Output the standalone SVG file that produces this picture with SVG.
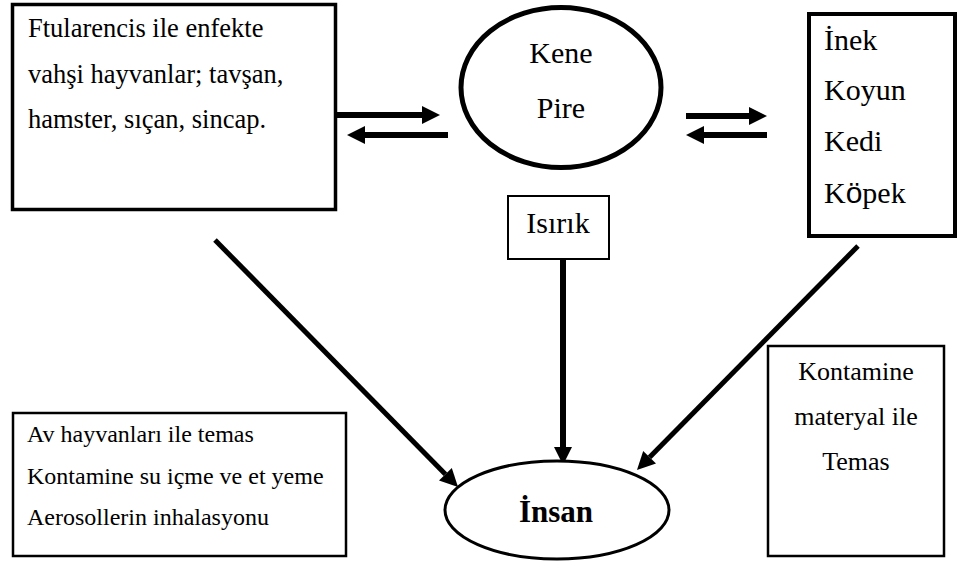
<svg xmlns="http://www.w3.org/2000/svg" width="960" height="567" viewBox="0 0 960 567">
<style>
text{font-family:"Liberation Serif","Times New Roman",serif;fill:#000}
.box{fill:#fff;stroke:#000}
.line{fill:none;stroke:#000}
</style>
<defs>
<marker id="ah" markerUnits="userSpaceOnUse" markerWidth="18" markerHeight="18" refX="0" refY="9" orient="auto" overflow="visible">
<path d="M0,0 L18,9 L0,18 Z" fill="#000"/>
</marker>
</defs>
<rect width="960" height="567" fill="#fff"/>
<g id="connectors">
<line class="line" x1="337" y1="115" x2="422" y2="115" stroke-width="6" marker-end="url(#ah)"/>
<line class="line" x1="448" y1="135" x2="365" y2="135" stroke-width="6" marker-end="url(#ah)"/>
<line class="line" x1="686" y1="116" x2="749" y2="116" stroke-width="6" marker-end="url(#ah)"/>
<line class="line" x1="767" y1="135" x2="704" y2="135" stroke-width="6" marker-end="url(#ah)"/>
<line class="line" x1="563" y1="260" x2="563" y2="447" stroke-width="6" marker-end="url(#ah)"/>
<line class="line" x1="215" y1="240" x2="445.4" y2="474.2" stroke-width="5" marker-end="url(#ah)"/>
<line class="line" x1="858" y1="246" x2="649.6" y2="457.2" stroke-width="5" marker-end="url(#ah)"/>
</g>
<g id="hosts-wild">
<rect class="box" x="12.5" y="4.5" width="323" height="205" stroke-width="3.5"/>
<text x="28" y="37" font-size="26.5">Ftularencis ile enfekte</text>
<text x="28" y="83" font-size="26.5">vahşi hayvanlar; tavşan,</text>
<text x="28" y="128" font-size="26.5">hamster, sıçan, sincap.</text>
</g>
<g id="vector">
<ellipse class="box" cx="561" cy="87.5" rx="100" ry="80" stroke-width="5"/>
<text x="561" y="63" font-size="30" text-anchor="middle">Kene</text>
<text x="561" y="118" font-size="30" text-anchor="middle">Pire</text>
</g>
<g id="hosts-domestic">
<rect class="box" x="809" y="14" width="146" height="222" stroke-width="4"/>
<text x="824" y="50" font-size="30">İnek</text>
<text x="824" y="100" font-size="30">Koyun</text>
<text x="824" y="151" font-size="30">Kedi</text>
<text x="824" y="203" font-size="30">K<tspan font-family="'Liberation Sans',Arial,sans-serif">ö</tspan>pek</text>
</g>
<g id="bite">
<rect class="box" x="508" y="196" width="101" height="63" stroke-width="2"/>
<text x="558" y="233" font-size="30" text-anchor="middle">Isırık</text>
</g>
<g id="routes">
<rect class="box" x="13" y="413" width="333" height="143" stroke-width="2.5"/>
<text x="27" y="442" font-size="24">Av hayvanları ile temas</text>
<text x="27" y="484" font-size="24">Kontamine su içme ve et yeme</text>
<text x="27" y="525" font-size="24">Aerosollerin inhalasyonu</text>
</g>
<g id="contact">
<rect class="box" x="768" y="346" width="176" height="210" stroke-width="2.5"/>
<text x="856" y="380" font-size="26" text-anchor="middle">Kontamine</text>
<text x="856" y="425" font-size="26" text-anchor="middle">materyal ile</text>
<text x="856" y="470" font-size="26" text-anchor="middle">Temas</text>
</g>
<g id="human">
<ellipse class="box" cx="557" cy="510" rx="112" ry="49" stroke-width="3"/>
<text x="556" y="522" font-size="31" font-weight="bold" text-anchor="middle">İnsan</text>
</g>
</svg>
